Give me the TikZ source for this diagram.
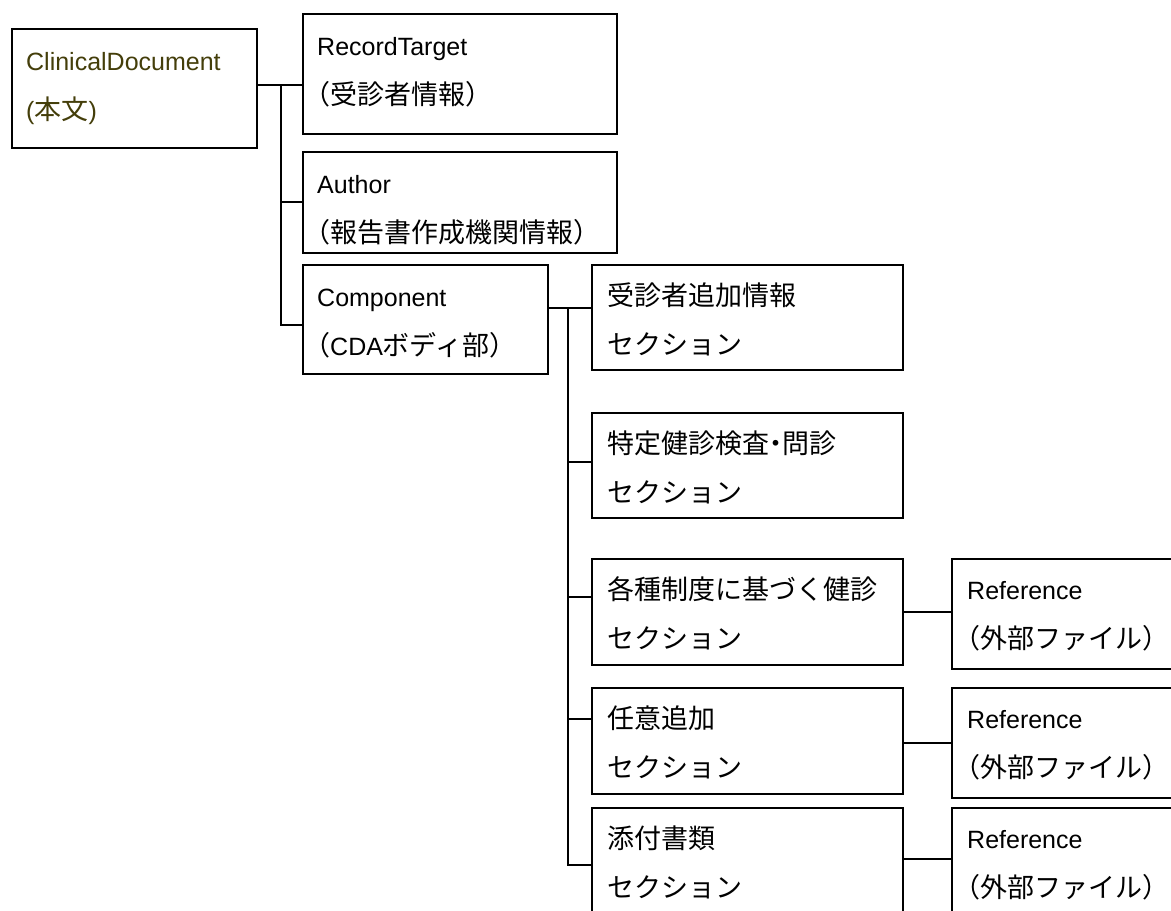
\documentclass[tikz,border=0pt]{standalone}
\usepackage{fontspec}
\setmainfont{Liberation Sans}
\newfontfamily\jpfont{Noto Sans CJK JP}
\newcommand\J[1]{{\jpfont\fontsize{27}{27}\selectfont #1}}
\newcommand\LP{\kern-14pt}
\definecolor{cdolive}{RGB}{68,62,10}
\begin{document}
\begin{tikzpicture}[x=1pt,y=-1pt,
  box/.style={draw, line width=2pt, inner sep=0pt, anchor=north west},
  txt/.style={anchor=base west, inner sep=0pt, font=\fontsize{25}{25}\selectfont},
  conn/.style={line width=1.8pt}]
\useasboundingbox (0,0) rectangle (1171,911);
\clip (0,0) rectangle (1171,911);
\fill[white] (0,0) rectangle (1171,911);

% boxes
\node[box, minimum width=245pt, minimum height=119pt] (cd) at (11,28) {};
\node[box, minimum width=314pt, minimum height=120pt] (rt) at (302,13) {};
\node[box, minimum width=314pt, minimum height=101pt] (au) at (302,151) {};
\node[box, minimum width=245pt, minimum height=109pt] (co) at (302,264) {};
\node[box, minimum width=311pt, minimum height=105pt] (s1) at (591,264) {};
\node[box, minimum width=311pt, minimum height=105pt] (s2) at (591,412) {};
\node[box, minimum width=311pt, minimum height=106pt] (s3) at (591,558) {};
\node[box, minimum width=311pt, minimum height=106pt] (s4) at (591,687) {};
\node[box, minimum width=311pt, minimum height=130pt] (s5) at (591,807) {};
\node[box, minimum width=240pt, minimum height=110pt] (r1) at (951,558) {};
\node[box, minimum width=240pt, minimum height=110pt] (r2) at (951,687) {};
\node[box, minimum width=240pt, minimum height=130pt] (r3) at (951,807) {};

% texts
\node[txt, text=cdolive] (cd-a) at ([shift={(15,42)}]cd.north west) {ClinicalDocument};
\node[txt, text=cdolive] (cd-b) at ([shift={(15,91)}]cd.north west) {(\J{本文})};
\node[txt] (rt-a) at ([shift={(15,42)}]rt.north west) {RecordTarget};
\node[txt] (rt-b) at ([shift={(15,91)}]rt.north west) {\LP\J{（受診者情報）}};
\node[txt] (au-a) at ([shift={(15,42)}]au.north west) {Author};
\node[txt] (au-b) at ([shift={(15,91)}]au.north west) {\LP\J{（報告書作成機関情報）}};
\node[txt] (co-a) at ([shift={(15,42)}]co.north west) {Component};
\node[txt] (co-b) at ([shift={(15,91)}]co.north west) {\LP\J{（}CDA\J{ボディ部）}};
\node[txt] (s1-a) at ([shift={(16,41)}]s1.north west) {\J{受診者追加情報}};
\node[txt] (s1-b) at ([shift={(16,90)}]s1.north west) {\J{セクション}};
\node[txt] (s2-a) at ([shift={(16,41)}]s2.north west) {\J{特定健診検査\kern-6.75pt・\kern-6.75pt問診}};
\node[txt] (s2-b) at ([shift={(16,90)}]s2.north west) {\J{セクション}};
\node[txt] (s3-a) at ([shift={(16,41)}]s3.north west) {\J{各種制度に基づく健診}};
\node[txt] (s3-b) at ([shift={(16,90)}]s3.north west) {\J{セクション}};
\node[txt] (s4-a) at ([shift={(16,41)}]s4.north west) {\J{任意追加}};
\node[txt] (s4-b) at ([shift={(16,90)}]s4.north west) {\J{セクション}};
\node[txt] (s5-a) at ([shift={(16,41)}]s5.north west) {\J{添付書類}};
\node[txt] (s5-b) at ([shift={(16,90)}]s5.north west) {\J{セクション}};
\node[txt] (r1-a) at ([shift={(16,41)}]r1.north west) {Reference};
\node[txt] (r1-b) at ([shift={(16,90)}]r1.north west) {\LP\J{（外部ファイル）}};
\node[txt] (r2-a) at ([shift={(16,41)}]r2.north west) {Reference};
\node[txt] (r2-b) at ([shift={(16,90)}]r2.north west) {\LP\J{（外部ファイル）}};
\node[txt] (r3-a) at ([shift={(16,41)}]r3.north west) {Reference};
\node[txt] (r3-b) at ([shift={(16,90)}]r3.north west) {\LP\J{（外部ファイル）}};

% connectors level 1
\coordinate (j1top) at (281,85);
\coordinate (j1bot) at (281,325);
\draw[conn] (cd.east |- j1top) -- (rt.west |- j1top);
\draw[conn] (j1top) -- (j1bot) -- (co.west |- j1bot);
\draw[conn] (au.west |- 0,202) -- (j1top |- 0,202);

% connectors level 2
\coordinate (j2top) at (568,308);
\coordinate (j2bot) at (568,865);
\draw[conn] (co.east |- j2top) -- (s1.west |- j2top);
\draw[conn] (j2top) -- (j2bot) -- (s5.west |- j2bot);
\draw[conn] (s2.west |- 0,462) -- (j2top |- 0,462);
\draw[conn] (s3.west |- 0,597) -- (j2top |- 0,597);
\draw[conn] (s4.west |- 0,719) -- (j2top |- 0,719);

% connectors level 3
\draw[conn] (s3.east |- 0,612) -- (r1.west |- 0,612);
\draw[conn] (s4.east |- 0,743) -- (r2.west |- 0,743);
\draw[conn] (s5.east |- 0,859) -- (r3.west |- 0,859);
\end{tikzpicture}
\end{document}
